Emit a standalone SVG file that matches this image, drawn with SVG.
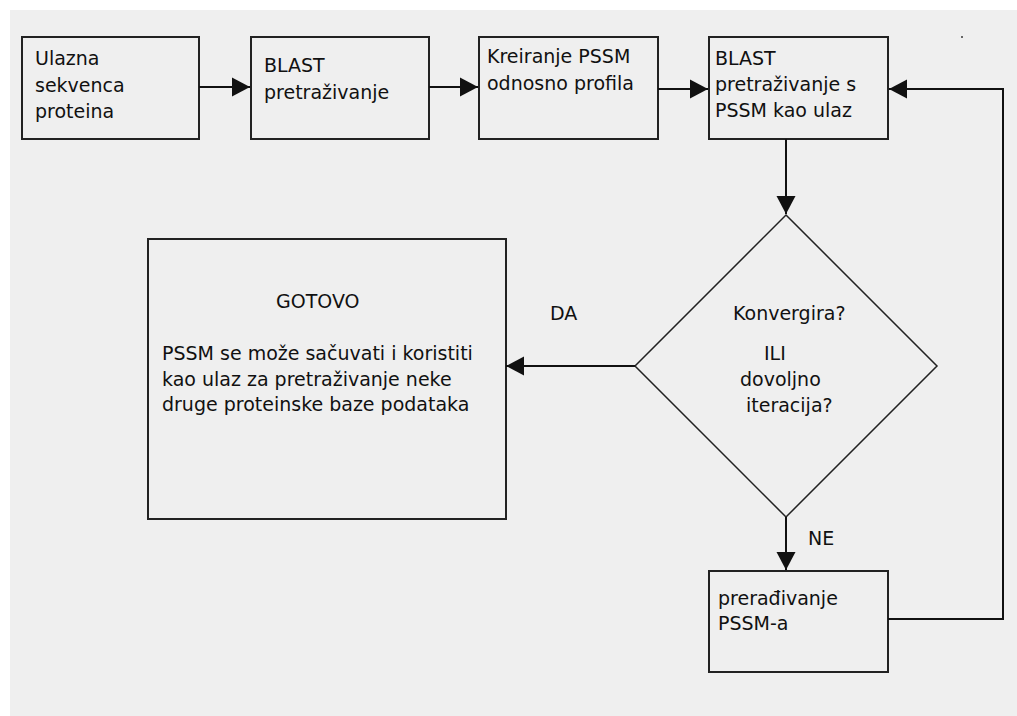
<svg xmlns="http://www.w3.org/2000/svg" width="1017" height="716" viewBox="0 0 1017 716">
<defs>
<style>
.box{fill:none;stroke:#222;stroke-width:2}
.dia{fill:none;stroke:#222;stroke-width:1.5}
.conn{fill:none;stroke:#111;stroke-width:2;marker-end:url(#ah)}
.line{fill:none;stroke:#111;stroke-width:2}
text{font-family:"DejaVu Sans",Verdana,sans-serif;font-size:19px;fill:#111}
</style>
<marker id="ah" markerUnits="userSpaceOnUse" markerWidth="18" markerHeight="20" refX="18" refY="10" orient="auto" viewBox="0 0 18 20">
<path d="M0,0.5 L18,10 L0,19.5 Z" fill="#111"/>
</marker>
</defs>
<rect x="0" y="0" width="1017" height="716" fill="#fff"/>
<rect x="10" y="10" width="1007" height="706" fill="#efefef"/>
<rect x="961" y="36" width="2" height="2" fill="#666"/>

<g id="n1">
<rect class="box" x="22" y="37" width="177" height="102"/>
<text x="35" y="65">Ulazna</text>
<text x="35" y="91.5">sekvenca</text>
<text x="35" y="118">proteina</text>
</g>
<g id="n2">
<rect class="box" x="251" y="37" width="178" height="102"/>
<text x="264" y="72">BLAST</text>
<text x="264" y="98.5">pretraživanje</text>
</g>
<g id="n3">
<rect class="box" x="479" y="37" width="179" height="102"/>
<text x="487" y="63">Kreiranje PSSM</text>
<text x="487" y="89.5">odnosno profila</text>
</g>
<g id="n4">
<rect class="box" x="709" y="37" width="179" height="102"/>
<text x="715" y="65">BLAST</text>
<text x="715" y="91">pretraživanje s</text>
<text x="715" y="117">PSSM kao ulaz</text>
</g>
<g id="n5">
<polygon class="dia" points="786,215 937,366 786,517 635,366"/>
<text x="733" y="320">Konvergira?</text>
<text x="764" y="360">ILI</text>
<text x="740" y="386">dovoljno</text>
<text x="746" y="411.5">iteracija?</text>
</g>
<g id="n6">
<rect class="box" x="148" y="239" width="358" height="280"/>
<text x="276" y="308">GOTOVO</text>
<text x="162" y="360">PSSM se može sačuvati i koristiti</text>
<text x="162" y="385.5">kao ulaz za pretraživanje neke</text>
<text x="162" y="411">druge proteinske baze podataka</text>
</g>
<g id="n7">
<rect class="box" x="709" y="571" width="179" height="101"/>
<text x="718" y="605">prerađivanje</text>
<text x="718" y="630">PSSM-a</text>
</g>

<g id="connectors">
<path class="conn" d="M199,87 H250"/>
<path class="conn" d="M429,87 H478"/>
<path class="conn" d="M658,89 H708"/>
<path class="conn" d="M786,139 V214"/>
<path class="conn" d="M635,366 H506"/>
<path class="conn" d="M786,517 V570"/>
<path class="conn" d="M888,619 H1003 V89 H889"/>
<text x="550" y="320">DA</text>
<text x="808" y="545">NE</text>
</g>
</svg>
